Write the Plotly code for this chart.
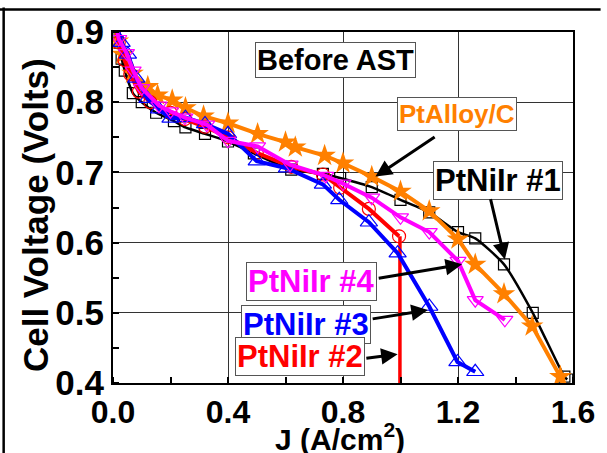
import plotly.graph_objects as go

# Polarization curves (current density in A/cm^2, cell voltage in V)
j_pt1 = [0.005, 0.017, 0.03, 0.041, 0.069, 0.10, 0.15, 0.212, 0.252, 0.32, 0.40, 0.49,
         0.62, 0.73, 0.79, 0.90, 1.00, 1.10, 1.20, 1.26, 1.36, 1.46, 1.57, 1.58]
v_pt1 = [0.905, 0.885, 0.862, 0.845, 0.813, 0.800, 0.785, 0.773, 0.764, 0.755, 0.744, 0.727,
         0.704, 0.698, 0.692, 0.679, 0.661, 0.643, 0.615, 0.606, 0.569, 0.500, 0.409, 0.405]

j_alloy = [0.005, 0.017, 0.034, 0.068, 0.121, 0.155, 0.206, 0.252, 0.315, 0.40, 0.503, 0.60,
           0.634, 0.736, 0.80, 0.90, 1.00, 1.10, 1.20, 1.26, 1.36, 1.458, 1.556, 1.575]
v_alloy = [0.910, 0.887, 0.868, 0.841, 0.822, 0.810, 0.803, 0.792, 0.780, 0.770, 0.755, 0.743,
           0.736, 0.724, 0.713, 0.694, 0.673, 0.645, 0.605, 0.569, 0.527, 0.481, 0.409, 0.385]

j_pt2 = [0.005, 0.02, 0.04, 0.06, 0.09, 0.13, 0.20, 0.25, 0.32, 0.40, 0.50, 0.62, 0.73, 0.79,
         0.89, 0.995]
v_pt2 = [0.915, 0.885, 0.860, 0.840, 0.815, 0.800, 0.785, 0.776, 0.765, 0.750, 0.728, 0.708,
         0.697, 0.678, 0.648, 0.609]

# Vertical reference line at J = 1.0 A/cm^2
j_ref = [0.998, 0.998]
v_ref = [0.609, 0.38]

j_pt3 = [0.005, 0.03, 0.052, 0.081, 0.12, 0.16, 0.20, 0.252, 0.32, 0.40, 0.50, 0.605, 0.73,
         0.787, 0.89, 0.99, 1.10, 1.198, 1.26]
v_pt3 = [0.920, 0.885, 0.868, 0.834, 0.805, 0.790, 0.777, 0.778, 0.769, 0.755, 0.716, 0.706,
         0.683, 0.661, 0.629, 0.585, 0.509, 0.430, 0.416]

j_pt4 = [0.005, 0.02, 0.047, 0.07, 0.10, 0.16, 0.20, 0.25, 0.326, 0.40, 0.503, 0.616, 0.74,
         0.80, 0.90, 1.00, 1.10, 1.20, 1.26, 1.363]
v_pt4 = [0.920, 0.890, 0.870, 0.845, 0.820, 0.795, 0.787, 0.778, 0.768, 0.745, 0.737, 0.711,
         0.695, 0.684, 0.664, 0.636, 0.615, 0.574, 0.518, 0.490]

x_ticks = [0.0, 0.4, 0.8, 1.2, 1.6]
x_labels = ["0.0", "0.4", "0.8", "1.2", "1.6"]
y_ticks = [0.4, 0.5, 0.6, 0.7, 0.8, 0.9]
y_labels = ["0.4", "0.5", "0.6", "0.7", "0.8", "0.9"]

FONT = "Liberation Sans, Arial, sans-serif"
ORANGE = "#ff8000"
BLACK = "#000000"
RED = "#ff0000"
BLUE = "#0000ff"
MAGENTA = "#ff00ff"

fig = go.Figure()

fig.add_trace(go.Scatter(
    x=j_pt1, y=v_pt1, mode="lines+markers", line=dict(color=BLACK, width=2.5, shape="spline", smoothing=0.6),
    marker=dict(symbol="square-open", size=11, color=BLACK, line=dict(width=1.2)), showlegend=False))
fig.add_trace(go.Scatter(
    x=j_alloy, y=v_alloy, mode="lines+markers", line=dict(color=ORANGE, width=4),
    marker=dict(symbol="star", size=17, color=ORANGE, line=dict(width=0)), showlegend=False))
fig.add_trace(go.Scatter(
    x=j_pt2, y=v_pt2, mode="lines+markers", line=dict(color=RED, width=4),
    marker=dict(symbol="circle-open", size=13, color=RED, line=dict(width=1.2)), showlegend=False))
fig.add_trace(go.Scatter(
    x=j_ref, y=v_ref, mode="lines", line=dict(color=RED, width=3.5), showlegend=False))
fig.add_trace(go.Scatter(
    x=j_pt3, y=v_pt3, mode="lines+markers", line=dict(color=BLUE, width=4),
    marker=dict(symbol="triangle-up-open", size=15, color=BLUE, line=dict(width=1.2)), showlegend=False))
fig.add_trace(go.Scatter(
    x=j_pt4, y=v_pt4, mode="lines+markers", line=dict(color=MAGENTA, width=4),
    marker=dict(symbol="triangle-down-open", size=14, color=MAGENTA, line=dict(width=1.2)), showlegend=False))

# Labelled boxes
labels = [
    ("Before AST", 0.773, 0.860, BLACK, 29),
    ("PtAlloy/C", 1.198, 0.783, ORANGE, 26),
    ("PtNiIr #1", 1.340, 0.688, BLACK, 31),
    ("PtNiIr #4", 0.692, 0.545, MAGENTA, 31),
    ("PtNiIr #3", 0.672, 0.484, BLUE, 31),
    ("PtNiIr #2", 0.650, 0.438, RED, 31),
]
for text, lx, ly, col, size in labels:
    fig.add_annotation(x=lx, y=ly, xref="x", yref="y", text=text, showarrow=False,
                       font=dict(family=FONT, size=size, color=col, weight="bold"),
                       bgcolor="white", bordercolor="#555555", borderwidth=1, borderpad=1)

# Pointer arrows: (tip x, tip y, tail x, tail y)
arrows = [
    (0.913, 0.694, 1.124, 0.752),
    (1.363, 0.576, 1.312, 0.664),
    (1.214, 0.569, 0.919, 0.549),
    (1.095, 0.504, 0.898, 0.491),
    (0.990, 0.441, 0.876, 0.435),
]
for tx, ty, sx, sy in arrows:
    fig.add_annotation(x=tx, y=ty, ax=sx, ay=sy, xref="x", yref="y", axref="x", ayref="y",
                       text="", showarrow=True, arrowhead=2, arrowsize=1.1, arrowwidth=3,
                       arrowcolor=BLACK)

# Axis titles
fig.add_annotation(x=-0.167, y=0.479, xref="paper", yref="paper", xanchor="center",
                   yanchor="middle", text="Cell Voltage (Volts)", textangle=-90,
                   showarrow=False,
                   font=dict(family=FONT, size=35, color=BLACK, weight="bold"))
fig.add_annotation(x=0.494, y=-0.095, xref="paper", yref="paper", xanchor="center",
                   yanchor="top", text="J (A/cm<sup>2</sup>)", showarrow=False,
                   font=dict(family=FONT, size=30, color=BLACK, weight="bold"))

# Outer frame (top and left edges)
fig.add_shape(type="line", xref="paper", yref="paper", x0=-0.25, x1=1.06, y0=1.0641, y1=1.0641,
              line=dict(color=BLACK, width=2.5))
fig.add_shape(type="line", xref="paper", yref="paper", x0=-0.2377, x1=-0.2377, y0=-0.2, y1=1.07,
              line=dict(color=BLACK, width=2.5))

axis_common = dict(
    showline=True, linecolor=BLACK, linewidth=2, mirror=True,
    showgrid=True, gridcolor="#333333", gridwidth=1.2,
    ticks="", zeroline=False,
)

fig.update_xaxes(range=[0, 1.6], tickvals=x_ticks, ticktext=x_labels,
                 tickfont=dict(family=FONT, size=32, color=BLACK, weight="bold"),
                 minor=dict(ticks="inside", ticklen=6, tickcolor=BLACK, tickwidth=1.5,
                            dtick=0.2, showgrid=False),
                 **axis_common)
fig.update_yaxes(range=[0.4, 0.9], tickvals=y_ticks, ticktext=y_labels,
                 tickfont=dict(family=FONT, size=35, color=BLACK, weight="bold"),
                 minor=dict(ticks="inside", ticklen=6, tickcolor=BLACK, tickwidth=1.5,
                            dtick=0.05, showgrid=False),
                 **axis_common)

fig.update_layout(
    width=607, height=453,
    margin=dict(l=113, r=27, t=24, b=70),
    paper_bgcolor="white", plot_bgcolor="white",
    showlegend=False,
)

fig.write_html("out.html")
